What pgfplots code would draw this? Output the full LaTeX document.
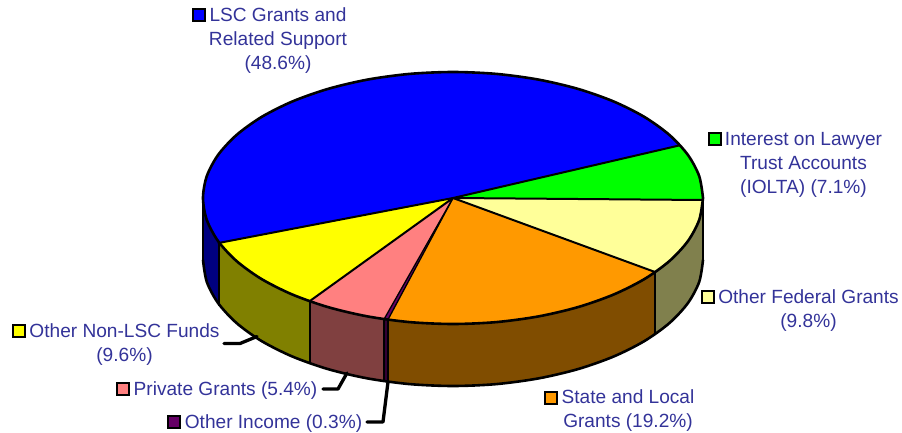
\documentclass[border=0pt]{standalone}
\usepackage{pgfplots}
\pgfplotsset{compat=1.18}
\usepackage{fontspec}
\setmainfont{Liberation Sans}
\definecolor{txt}{HTML}{333399}
\definecolor{cA}{HTML}{0000FF}
\definecolor{cB}{HTML}{00FF00}
\definecolor{cC}{HTML}{FFFF99}
\definecolor{cD}{HTML}{FF9900}
\definecolor{cE}{HTML}{660066}
\definecolor{cF}{HTML}{FF8080}
\definecolor{cG}{HTML}{FFFF00}
\definecolor{sA}{HTML}{000080}
\definecolor{sC}{HTML}{80804D}
\definecolor{sD}{HTML}{804D00}
\definecolor{sE}{HTML}{330033}
\definecolor{sF}{HTML}{804040}
\definecolor{sG}{HTML}{808000}
\tikzset{
  lab/.style={text=txt, align=center, inner sep=0pt, font=\fontsize{19.1}{24}\selectfont},
  key/.style={only marks, mark=square*, mark size=6pt, mark options={fill=#1, draw=black, line width=2pt}},
  rim/.style={draw=black, line width=2.6pt, line join=round, line cap=round},
  seam/.style={draw=black, line width=2pt, line cap=round},
  thin seam/.style={draw=black, line width=1.3pt, line cap=round},
  lead/.style={draw=black, line width=3.3pt, line join=round, line cap=round},
}
\begin{document}
\begin{tikzpicture}
\begin{axis}[
  hide axis, scale only axis, width=902pt, height=433pt,
  xmin=0, xmax=902, ymin=0, ymax=433, y dir=reverse, clip=false,
  every axis plot/.append style={forget plot},
]
% invisible frame that holds the page to the full picture size
\addplot[draw=none] coordinates {(0,0)(902,433)};
% side faces
\addplot[fill=sA, draw=none] coordinates {(203,198)(206.8,219.9)(218.5,243)(218.5,305)(206.8,281.9)(203,260)};
\addplot[fill=sG, draw=none] coordinates {(218.5,243)(236.5,261)(261.5,279)(292.3,294.5)(309.6,301.2)(309.6,363.2)(292.3,356.5)(261.5,341)(236.5,323)(218.5,305)};
\addplot[fill=sF, draw=none] coordinates {(309.6,301.2)(328,307.1)(367.5,316.4)(384.1,319.1)(384.1,381.1)(367.5,378.4)(328,369.1)(309.6,363.2)};
\addplot[fill=sE, draw=none] coordinates {(384.1,319.1)(388,319.6)(388,381.6)(384.1,381.1)};
\addplot[fill=sD, draw=none] coordinates {(388,319.6)(409.6,322.1)(453,324)(496.4,322.1)(538.5,316.4)(578,307.1)(613.7,294.5)(644.5,279)(655.3,272.1)(655.3,334.1)(644.5,341)(613.7,356.5)(578,369.1)(538.5,378.4)(496.4,384.1)(453,386)(409.6,384.1)(388,381.6)};
\addplot[fill=sC, draw=none] coordinates {(655.3,272.1)(669.5,261)(687.9,241.1)(699.2,219.9)(703,200)(703,262)(699.2,281.9)(687.9,303.1)(669.5,323)(655.3,334.1)};
% top faces
\addplot[fill=cA, draw=none] coordinates {(453,198)(679,145.5)(669.5,135)(644.5,117)(613.7,101.5)(578,88.9)(538.5,79.6)(496.4,73.9)(453,72)(409.6,73.9)(367.5,79.6)(328,88.9)(292.3,101.5)(261.5,117)(236.5,135)(218.1,154.9)(206.8,176.1)(203,198)(206.8,219.9)(218.5,243)};
\addplot[fill=cB, draw=none] coordinates {(453,198)(703,200)(703,198)(699.2,176.1)(687.9,154.9)(679,145.5)};
\addplot[fill=cC, draw=none] coordinates {(453,198)(655.3,272.1)(669.5,261)(687.9,241.1)(699.2,219.9)(703,200)};
\addplot[fill=cD, draw=none] coordinates {(453,198)(388,319.6)(409.6,322.1)(453,324)(496.4,322.1)(538.5,316.4)(578,307.1)(613.7,294.5)(644.5,279)(655.3,272.1)};
\addplot[fill=cE, draw=none] coordinates {(453,198)(384.1,319.1)(388,319.6)};
\addplot[fill=cF, draw=none] coordinates {(453,198)(309.6,301.2)(328,307.1)(367.5,316.4)(384.1,319.1)};
\addplot[fill=cG, draw=none] coordinates {(453,198)(218.5,243)(236.5,261)(261.5,279)(292.3,294.5)(309.6,301.2)};
% seams
\addplot[seam] coordinates {(453,198)(679,145.5)};
\addplot[seam] coordinates {(453,198)(703,200)};
\addplot[seam] coordinates {(453,198)(655.3,272.1)};
\addplot[thin seam] coordinates {(453,198)(388,319.6)};
\addplot[thin seam] coordinates {(453,198)(384.1,319.1)};
\addplot[seam] coordinates {(453,198)(309.6,301.2)};
\addplot[seam] coordinates {(453,198)(218.5,243)};
\addplot[seam] coordinates {(218.5,243)(218.5,305)};
\addplot[seam] coordinates {(309.6,301.2)(309.6,363.2)};
\addplot[thin seam] coordinates {(384.1,319.1)(384.1,381.1)};
\addplot[thin seam] coordinates {(388,319.6)(388,381.6)};
\addplot[seam] coordinates {(655.3,272.1)(655.3,334.1)};
% rims
\addplot[rim, smooth] coordinates {(703,198)(699.2,176.1)(687.9,154.9)(669.5,135)(644.5,117)(613.7,101.5)(578,88.9)(538.5,79.6)(496.4,73.9)(453,72)(409.6,73.9)(367.5,79.6)(328,88.9)(292.3,101.5)(261.5,117)(236.5,135)(218.1,154.9)(206.8,176.1)(203,198)(206.8,219.9)(218.1,241.1)(236.5,261)(261.5,279)(292.3,294.5)(328,307.1)(367.5,316.4)(409.6,322.1)(453,324)(496.4,322.1)(538.5,316.4)(578,307.1)(613.7,294.5)(644.5,279)(669.5,261)(687.9,241.1)(699.2,219.9)(703,198)};
\addplot[rim] coordinates {(203,198)(203,260)};
\addplot[rim] coordinates {(703,198)(703,260)};
\addplot[rim, smooth] coordinates {(203,260)(206.8,281.9)(218.1,303.1)(236.5,323)(261.5,341)(292.3,356.5)(328,369.1)(367.5,378.4)(409.6,384.1)(453,386)(496.4,384.1)(538.5,378.4)(578,369.1)(613.7,356.5)(644.5,341)(669.5,323)(687.9,303.1)(699.2,281.9)(703,260)};
% leaders
\addplot[lead] coordinates {(224,343.5)(240,343.5)(257,336.5)};
\addplot[lead] coordinates {(323,389)(338,389)(347,373)};
\addplot[lead] coordinates {(367,422)(383,422)(388,382)};
% legend keys
\addplot[key=cA] coordinates {(198.5,15)};
\addplot[key=cB] coordinates {(714.5,139)};
\addplot[key=cC] coordinates {(707.5,297)};
\addplot[key=cD] coordinates {(551,397.5)};
\addplot[key=cE] coordinates {(174,422)};
\addplot[key=cF] coordinates {(123,389)};
\addplot[key=cG] coordinates {(18.5,331)};
% labels
\node[lab] at (axis cs:278,41) {LSC Grants and\\Related Support\\(48.6\%)};
\node[lab] at (axis cs:803.5,165) {Interest on Lawyer\\Trust Accounts\\(IOLTA) (7.1\%)};
\node[lab] at (axis cs:808.5,311) {Other Federal Grants\\(9.8\%)};
\node[lab] at (axis cs:628,411) {State and Local\\Grants (19.2\%)};
\node[lab] at (axis cs:273.5,424) {Other Income (0.3\%)};
\node[lab] at (axis cs:225.5,391) {Private Grants (5.4\%)};
\node[lab] at (axis cs:124.5,344.5) {Other Non-LSC Funds\\(9.6\%)};
\end{axis}
\end{tikzpicture}
\end{document}
